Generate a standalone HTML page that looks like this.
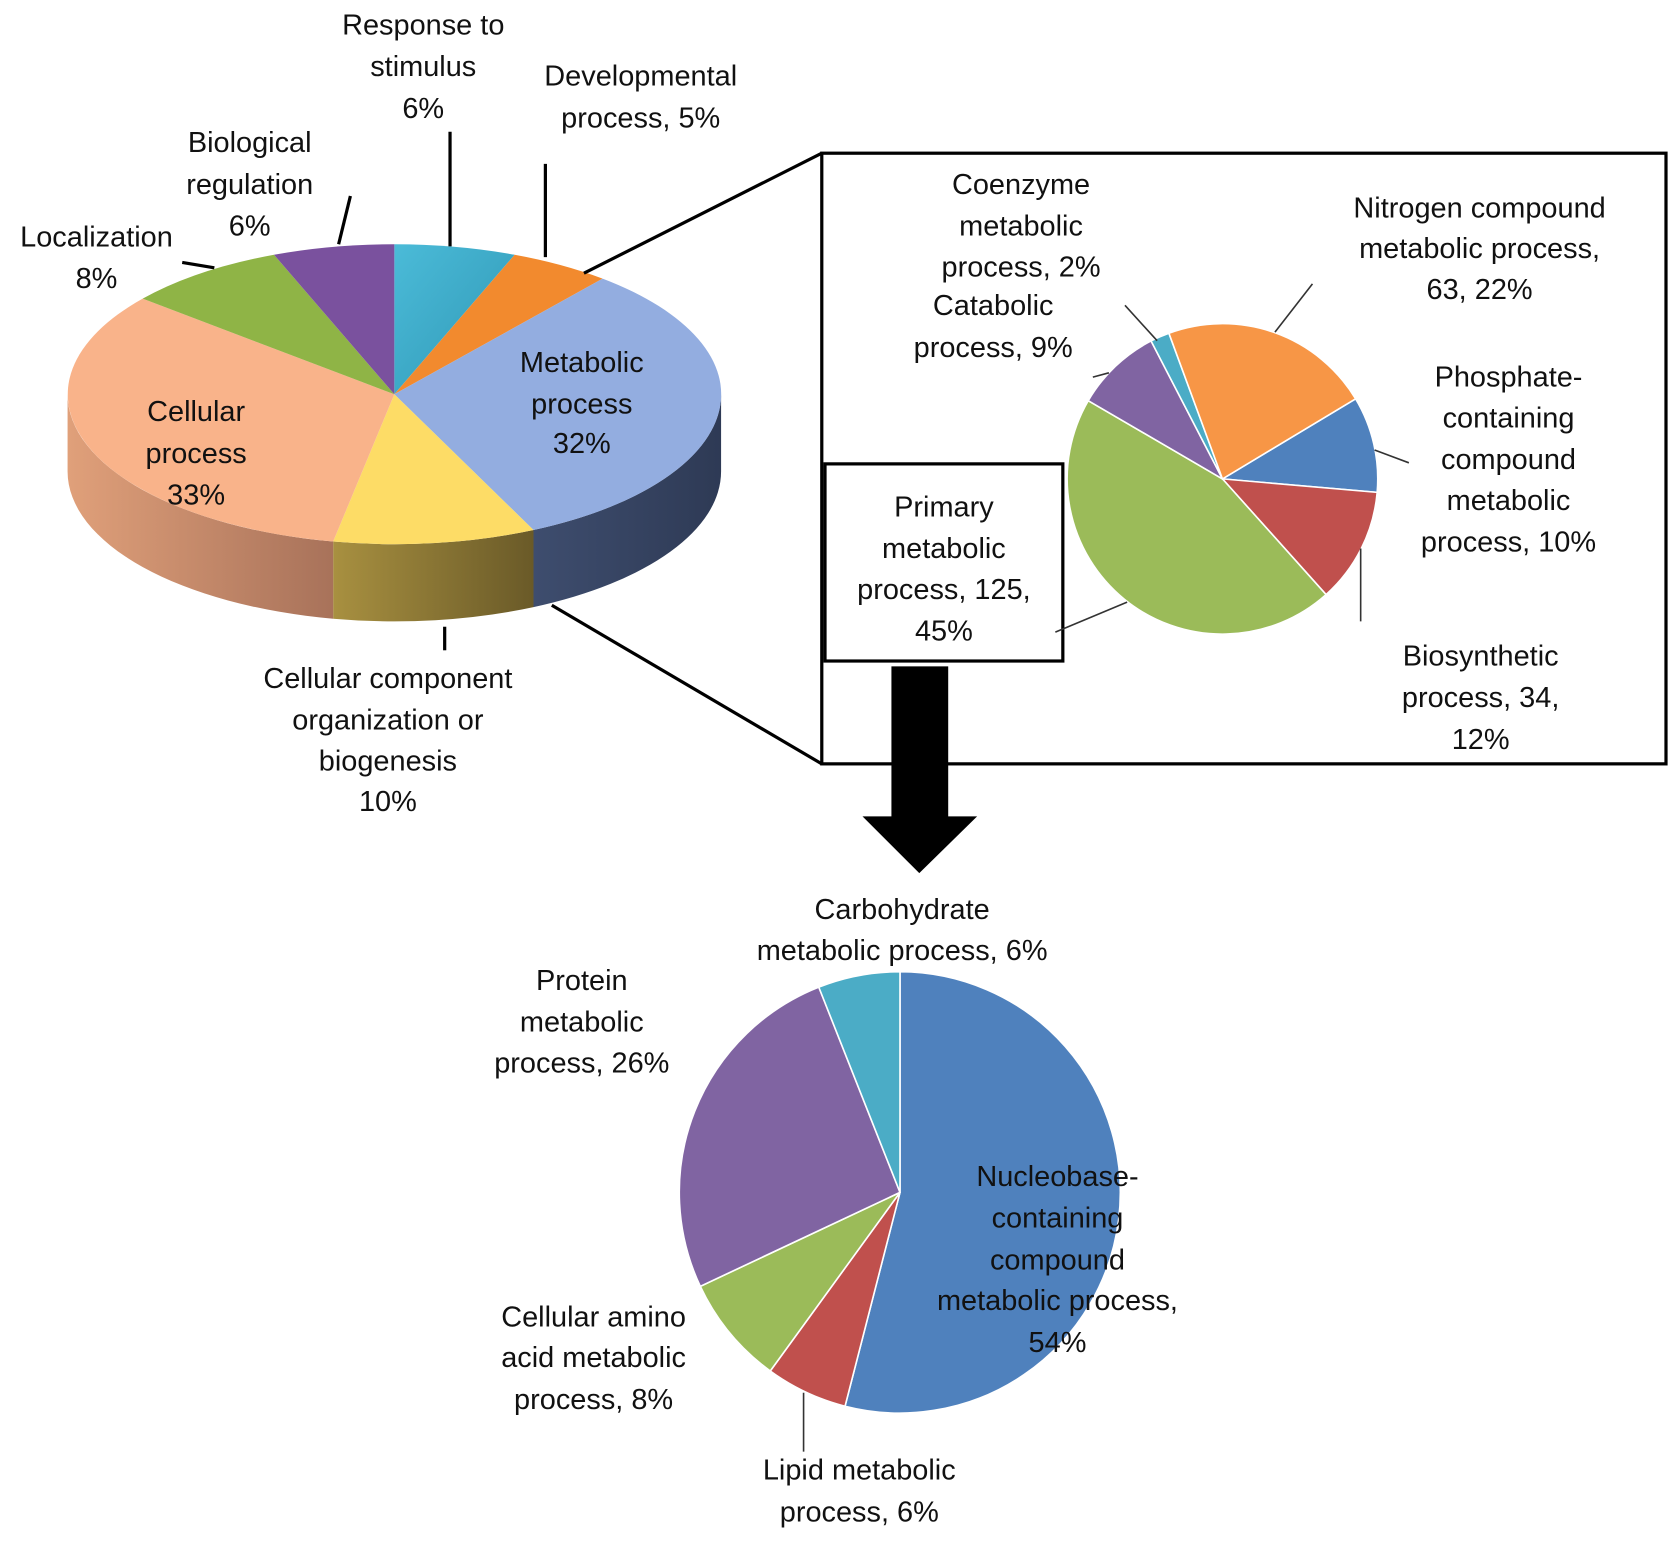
<!DOCTYPE html>
<html><head><meta charset="utf-8"><style>
html,body{margin:0;padding:0;background:#fff;}
svg{display:block;}
text{font-family:"Liberation Sans",Arial,sans-serif;font-size:27px;fill:#111;text-anchor:middle;}
</style></head><body>
<svg width="1680" height="1547" viewBox="0 0 1568 1444" xmlns="http://www.w3.org/2000/svg">
<defs>
<linearGradient id="gp" x1="0" x2="1" y1="0" y2="0"><stop offset="0" stop-color="#e0a07a"/><stop offset="1" stop-color="#a8725a"/></linearGradient>
<linearGradient id="gy" x1="0" x2="1" y1="0" y2="0"><stop offset="0" stop-color="#a89040"/><stop offset="1" stop-color="#6a5a28"/></linearGradient>
<linearGradient id="gb" x1="0" x2="1" y1="0" y2="0"><stop offset="0" stop-color="#3e4d6e"/><stop offset="1" stop-color="#2e3a55"/></linearGradient>
<linearGradient id="gc" x1="0" x2="1" y1="0" y2="1"><stop offset="0" stop-color="#4bbbd8"/><stop offset="1" stop-color="#2f97b5"/></linearGradient>
</defs>
<!-- 3D sides -->
<path d="M673,368 A305,140 0 0 1 497.9,494.7 L497.9,566.7 A305,140 0 0 0 673,440 Z" fill="url(#gb)"/>
<path d="M497.9,494.7 A305,140 0 0 1 310.9,505.5 L310.9,577.5 A305,140 0 0 0 497.9,566.7 Z" fill="url(#gy)"/>
<path d="M310.9,505.5 A305,140 0 0 1 63,368 L63,440 A305,140 0 0 0 310.9,577.5 Z" fill="url(#gp)"/>
<!-- top face -->
<path d="M368,368 L368,228 A305,140 0 0 1 480.3,237.8 Z" fill="url(#gc)"/>
<path d="M368,368 L480.3,237.8 A305,140 0 0 1 562.4,260.1 Z" fill="#f28a2e"/>
<path d="M368,368 L562.4,260.1 A305,140 0 0 1 497.9,494.7 Z" fill="#93ade0"/>
<path d="M368,368 L497.9,494.7 A305,140 0 0 1 310.9,505.5 Z" fill="#fddc66"/>
<path d="M368,368 L310.9,505.5 A305,140 0 0 1 133.1,278.8 Z" fill="#f9b38a"/>
<path d="M368,368 L133.1,278.8 A305,140 0 0 1 255.7,237.8 Z" fill="#8fb446"/>
<path d="M368,368 L255.7,237.8 A305,140 0 0 1 368,228 Z" fill="#7a519e"/>
<!-- leaders top -->
<g stroke="#000" stroke-width="3" fill="none">
<line x1="170" y1="245" x2="200" y2="250"/>
<line x1="327" y1="183" x2="316" y2="228"/>
<line x1="420" y1="123" x2="420" y2="230"/>
<line x1="509" y1="153" x2="509" y2="240"/>
<line x1="415" y1="585" x2="415" y2="607"/>
<line x1="545" y1="255" x2="767" y2="143"/>
<line x1="515" y1="565" x2="767" y2="713"/>
<rect x="767" y="143" width="788" height="570"/>
<rect x="770" y="433" width="222" height="184" fill="#fff"/>
</g>
<!-- small pie -->
<g stroke="#fff" stroke-width="1.5">
<path d="M1141,447 L1265.3,372.3 A145,145 0 0 1 1285.4,459.6 Z" fill="#4f81bd"/>
<path d="M1141,447 L1285.4,459.6 A145,145 0 0 1 1237.7,555 Z" fill="#c0504d"/>
<path d="M1141,447 L1237.7,555 A145,145 0 0 1 1015.7,374 Z" fill="#9bbb59"/>
<path d="M1141,447 L1015.7,374 A145,145 0 0 1 1074.3,318.2 Z" fill="#8064a2"/>
<path d="M1141,447 L1074.3,318.2 A145,145 0 0 1 1091,311 Z" fill="#4bacc6"/>
<path d="M1141,447 L1091,311 A145,145 0 0 1 1265.3,372.3 Z" fill="#f79646"/>
</g>
<g stroke="#333" stroke-width="1.5">
<line x1="1050" y1="285" x2="1080" y2="318"/>
<line x1="1225" y1="265" x2="1190" y2="310"/>
<line x1="1020" y1="352" x2="1035" y2="348"/>
<line x1="1283" y1="420" x2="1315" y2="432"/>
<line x1="1270" y1="512" x2="1270" y2="580"/>
<line x1="985" y1="590" x2="1052" y2="562"/>
<line x1="750" y1="1300" x2="750" y2="1355"/>
</g>
<!-- arrow -->
<rect x="832" y="622" width="53" height="141" fill="#000"/>
<polygon points="805,762 912,762 858,815" fill="#000"/>
<!-- bottom pie -->
<g stroke="#fff" stroke-width="1.5">
<path d="M840,1113 L840,907 A206,206 0 1 1 788.7,1312.6 Z" fill="#4f81bd"/>
<path d="M840,1113 L788.7,1312.6 A206,206 0 0 1 718.9,1279.7 Z" fill="#c0504d"/>
<path d="M840,1113 L718.9,1279.7 A206,206 0 0 1 653.6,1200.7 Z" fill="#9bbb59"/>
<path d="M840,1113 L653.6,1200.7 A206,206 0 0 1 764.2,921.4 Z" fill="#8064a2"/>
<path d="M840,1113 L764.2,921.4 A206,206 0 0 1 840,907 Z" fill="#4bacc6"/>
</g>
<!-- labels -->
<text x="395" y="32">Response to</text><text x="395" y="71">stimulus</text><text x="395" y="110">6%</text>
<text x="598" y="80">Developmental</text><text x="598" y="119">process, 5%</text>
<text x="233" y="142">Biological</text><text x="233" y="181">regulation</text><text x="233" y="220">6%</text>
<text x="90" y="230">Localization</text><text x="90" y="269">8%</text>
<text x="543" y="347">Metabolic</text><text x="543" y="386">process</text><text x="543" y="423">32%</text>
<text x="183" y="393">Cellular</text><text x="183" y="432">process</text><text x="183" y="471">33%</text>
<text x="362" y="642">Cellular component</text><text x="362" y="681">organization or</text><text x="362" y="719">biogenesis</text><text x="362" y="757">10%</text>
<text x="953" y="181">Coenzyme</text><text x="953" y="220">metabolic</text><text x="953" y="258">process, 2%</text>
<text x="927" y="294">Catabolic</text><text x="927" y="333">process, 9%</text>
<text x="1381" y="203">Nitrogen compound</text><text x="1381" y="241">metabolic process,</text><text x="1381" y="279">63, 22%</text>
<text x="1408" y="361">Phosphate-</text><text x="1408" y="399">containing</text><text x="1408" y="438">compound</text><text x="1408" y="476">metabolic</text><text x="1408" y="515">process, 10%</text>
<text x="881" y="482">Primary</text><text x="881" y="521">metabolic</text><text x="881" y="559">process, 125,</text><text x="881" y="598">45%</text>
<text x="1382" y="621">Biosynthetic</text><text x="1382" y="660">process, 34,</text><text x="1382" y="699">12%</text>
<text x="842" y="858">Carbohydrate</text><text x="842" y="896">metabolic process, 6%</text>
<text x="543" y="924">Protein</text><text x="543" y="963">metabolic</text><text x="543" y="1001">process, 26%</text>
<text x="987" y="1107">Nucleobase-</text><text x="987" y="1146">containing</text><text x="987" y="1185">compound</text><text x="987" y="1223">metabolic process,</text><text x="987" y="1262">54%</text>
<text x="554" y="1238">Cellular amino</text><text x="554" y="1276">acid metabolic</text><text x="554" y="1315">process, 8%</text>
<text x="802" y="1381">Lipid metabolic</text><text x="802" y="1420">process, 6%</text>
</svg>
</body></html>
